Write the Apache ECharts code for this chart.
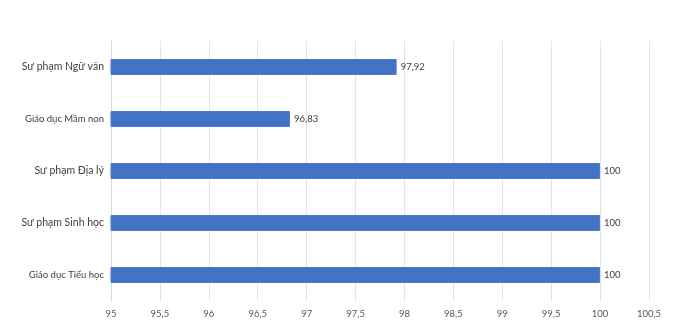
<!DOCTYPE html>
<html>
<head>
<meta charset="utf-8">
<script src="https://cdn.jsdelivr.net/npm/echarts@6/dist/echarts.min.js"></script>
<style>
html,body{margin:0;padding:0;background:#fff;}
#chart{width:700px;height:325px;}
</style>
</head>
<body>
<div id="chart"></div>
<script>
// Ngành học và tỉ lệ (%), từ trên xuống dưới
const categories = ['Sư phạm Ngữ văn', 'Giáo dục Mầm non', 'Sư phạm Địa lý', 'Sư phạm Sinh học', 'Giáo dục Tiểu học'];
const values = [97.92, 96.83, 100, 100, 100];
const tickLabels = ['95', '95,5', '96', '96,5', '97', '97,5', '98', '98,5', '99', '99,5', '100', '100,5'];

const FONT = 'Lato, sans-serif';
const fmt = v => String(v).replace('.', ',');
const smallLabel = name => name.indexOf('Giáo dục') === 0;

const chart = echarts.init(document.getElementById('chart'), null, { renderer: 'canvas' });
chart.setOption({
  animation: false,
  grid: { left: 111, right: 51, top: 41, bottom: 24, containLabel: false },
  xAxis: {
    type: 'value',
    min: 95, max: 100.5, interval: 0.5,
    axisLine: { show: false },
    axisTick: { show: false },
    splitLine: { show: true, lineStyle: { color: '#e4e4e4', width: 1 } },
    axisLabel: {
      color: '#595959', fontFamily: FONT, fontSize: 9.5, margin: 8,
      formatter: v => {
        const i = Math.round((v - 95) / 0.5);
        return tickLabels[i] !== undefined ? tickLabels[i] : '';
      }
    }
  },
  yAxis: {
    type: 'category',
    data: categories,
    inverse: true,
    axisLine: { show: true, lineStyle: { color: '#d9d9d9' } },
    axisTick: { show: false },
    axisLabel: {
      margin: 7,
      color: '#404040',
      fontFamily: FONT,
      formatter: name => smallLabel(name) ? '{s|' + name + '}' : '{b|' + name + '}',
      rich: {
        b: { fontSize: 10.5, color: '#404040', fontFamily: FONT },
        s: { fontSize: 9.5, color: '#404040', fontFamily: FONT }
      }
    }
  },
  series: [{
    type: 'bar',
    data: values,
    barWidth: 16,
    itemStyle: { color: '#4472C4', borderColor: '#4a7ad0', borderWidth: 1 },
    label: {
      show: true, position: 'right', distance: 4,
      color: '#404040', fontSize: 9.5, fontFamily: FONT,
      formatter: p => fmt(p.value)
    }
  }]
});
</script>
</body>
</html>
